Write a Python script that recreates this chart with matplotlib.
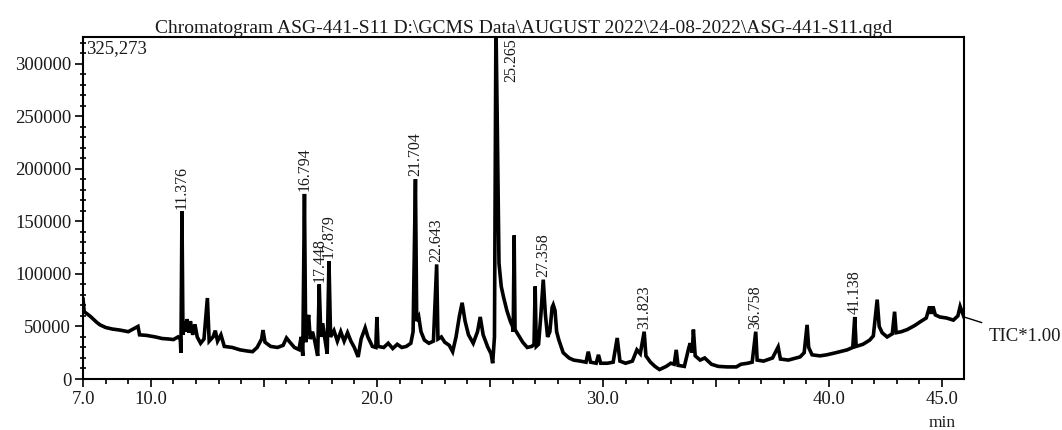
import numpy as np
import matplotlib.pyplot as plt
from matplotlib.ticker import MultipleLocator, FixedLocator, FixedFormatter

# retention time (min) and TIC intensity
rt = [7.00, 7.05, 7.3, 7.6, 7.75, 8.0, 8.3, 8.64, 9.0, 9.43, 9.5, 9.8, 10.2, 10.5, 10.8,
      11.0, 11.2, 11.3, 11.33, 11.376, 11.42, 11.5, 11.55, 11.6, 11.68, 11.75, 11.85, 11.95,
      12.05, 12.2, 12.35, 12.5, 12.58, 12.75, 12.85, 12.95, 13.1, 13.25, 13.6, 13.95, 14.3,
      14.5, 14.7, 14.9, 14.96, 15.05, 15.3, 15.6, 15.85, 16.0, 16.15, 16.35, 16.55, 16.65,
      16.72, 16.794, 16.85, 16.92, 16.98, 17.05, 17.15, 17.25, 17.38, 17.448, 17.52, 17.6,
      17.7, 17.8, 17.879, 17.95, 18.1, 18.25, 18.4, 18.55, 18.7, 18.85, 19.0, 19.17, 19.3,
      19.48, 19.6, 19.8, 19.95, 20.0, 20.05, 20.3, 20.5, 20.7, 20.9, 21.1, 21.3, 21.5, 21.6,
      21.704, 21.76, 21.85, 21.95, 22.1, 22.3, 22.5, 22.643, 22.7, 22.85, 23.0, 23.2, 23.35,
      23.5, 23.65, 23.77, 23.9, 24.05, 24.26, 24.45, 24.57, 24.7, 24.9, 25.05, 25.12, 25.2,
      25.265, 25.32, 25.4, 25.5, 25.6, 25.75, 25.9, 26.0, 26.03, 26.07, 26.11, 26.25, 26.45,
      26.65, 26.85, 26.95, 27.0, 27.05, 27.15, 27.25, 27.358, 27.45, 27.55, 27.65, 27.75,
      27.8, 27.88, 27.95, 28.05, 28.24, 28.5, 28.7, 29.0, 29.25, 29.35, 29.45, 29.7, 29.8,
      29.9, 30.2, 30.45, 30.63, 30.75, 31.0, 31.3, 31.5, 31.65, 31.823, 31.9, 32.1, 32.3,
      32.5, 32.8, 33.0, 33.15, 33.24, 33.32, 33.6, 33.8, 33.86, 33.95, 34.0, 34.08, 34.3,
      34.5, 34.8, 35.1, 35.5, 35.9, 36.1, 36.4, 36.6, 36.758, 36.82, 37.1, 37.5, 37.75,
      37.85, 38.2, 38.72, 38.9, 39.03, 39.1, 39.25, 39.6, 39.9, 40.3, 40.8, 41.05, 41.138,
      41.2, 41.5, 41.8, 41.96, 42.13, 42.22, 42.35, 42.57, 42.8, 42.9, 42.97, 43.2, 43.46,
      43.8, 44.04, 44.3, 44.45, 44.52, 44.6, 44.7, 44.9, 45.2, 45.5, 45.7, 45.8, 45.97]
tic = [76000, 64000, 60000, 54000, 51500, 49000, 47500, 46500, 45000, 50000, 42000, 41500,
       40000, 38500, 38000, 37500, 40000, 38000, 25000, 159500, 42000, 55000, 45000, 57000,
       44000, 55000, 42000, 52000, 40000, 34000, 38000, 77000, 36000, 40000, 46000, 36000,
       42000, 31000, 30000, 27700, 26500, 26000, 30000, 38000, 46500, 35000, 31000, 30000,
       32000, 39000, 35000, 30000, 28000, 40000, 22000, 176000, 35000, 52000, 61000, 38000,
       45000, 36000, 22000, 90000, 40000, 53000, 38000, 24000, 112000, 40000, 46000, 36000,
       45000, 36000, 44000, 36000, 30000, 21000, 38000, 48700, 40000, 31000, 30000, 59000,
       31000, 30000, 34000, 29000, 33000, 30000, 31000, 34000, 45000, 190000, 55000, 59000,
       45000, 37000, 34000, 36000, 109000, 38000, 40000, 35000, 32000, 26000, 40000, 60000,
       72500, 55000, 42000, 34000, 45000, 59000, 42000, 30500, 24000, 15000, 40000, 340000,
       250000, 110000, 88000, 78000, 65000, 55000, 50000, 45000, 136500, 47000, 42000, 35000,
       30000, 31000, 33000, 88000, 31000, 33000, 60000, 94500, 62000, 40000, 45000, 68000,
       70500, 65000, 45000, 37000, 25000, 20000, 18000, 17000, 16000, 26000, 16000, 15000,
       23000, 15000, 15000, 16000, 39000, 17000, 15000, 17000, 27700, 24000, 45000, 22000,
       16000, 12000, 9000, 12000, 15000, 14000, 27700, 13000, 12000, 30000, 34000, 25000,
       47000, 22000, 18000, 20000, 14000, 12000, 11500, 11500, 14000, 15000, 16000, 45000,
       18000, 17000, 20000, 30500, 19000, 18000, 21000, 25000, 51500, 30000, 23000, 22000,
       23000, 25000, 27700, 30000, 59000, 31000, 33000, 37000, 41000, 75500, 50000, 44000,
       40000, 43000, 64000, 44000, 45000, 47000, 51000, 54500, 58000, 69000, 62000, 69000,
       61000, 59000, 58000, 56000, 60000, 69000, 59000]

peak_labels = ['11.376', '16.794', '17.448', '17.879', '21.704', '22.643',
               '25.265', '27.358', '31.823', '36.758', '41.138']

xtick_pos = [7, 10, 15, 20, 25, 30, 35, 40, 45]
xtick_lab = ['7.0', '10.0', '', '20.0', '', '30.0', '', '40.0', '45.0']

title = r'Chromatogram ASG-441-S11 D:\GCMS Data\AUGUST 2022\24-08-2022\ASG-441-S11.qgd'
y_top = 325273

plt.rcParams['font.family'] = ['Liberation Serif', 'DejaVu Serif']
txt = '#1a1a1a'

fig = plt.figure(figsize=(10.62, 4.30), dpi=100)
ax = fig.add_axes([0.0782, 0.1186, 0.8295, 0.7954])

rt = np.array(rt)
tic = np.array(tic)
ax.plot(rt, tic, color='black', lw=2.6, solid_joinstyle='miter')

ax.set_xlim(7.0, 45.97)
ax.set_ylim(0, y_top)

# peak labels, rotated, sitting just above each apex
for lab in peak_labels:
    t = float(lab)
    win = (rt > t - 0.05) & (rt < t + 0.05)
    top = tic[win].max()
    if top >= y_top:
        ax.annotate(lab, xy=(t, y_top), xytext=(11, -1), textcoords='offset points',
                    rotation=90, ha='center', va='top', fontsize=11.5, color=txt)
    else:
        ax.annotate(lab, xy=(t, top), xytext=(0, 2), textcoords='offset points',
                    rotation=90, ha='center', va='bottom', fontsize=11.5, color=txt)

ax.text(0.003, 0.99, '{:,}'.format(y_top), transform=ax.transAxes,
        ha='left', va='top', fontsize=13.5, color=txt)

# TIC tag outside the frame
ax.annotate('TIC*1.00', xy=(rt[-1], tic[-1]), xytext=(18, -14), textcoords='offset points',
            ha='left', va='center', fontsize=13.5, color=txt, annotation_clip=False,
            arrowprops=dict(arrowstyle='-', color='black', lw=1.0, shrinkA=6, shrinkB=0))

ax.set_title(title, fontsize=14, color=txt, pad=1)

ax.xaxis.set_major_locator(FixedLocator(xtick_pos))
ax.xaxis.set_major_formatter(FixedFormatter(xtick_lab))
ax.xaxis.set_minor_locator(MultipleLocator(1))
ax.yaxis.set_major_locator(MultipleLocator(50000))
ax.yaxis.set_minor_locator(MultipleLocator(10000))
ax.tick_params(axis='both', which='major', direction='out', length=6, width=1.2,
               labelsize=13.5, labelcolor=txt, pad=2.5)
ax.tick_params(axis='x', which='minor', direction='out', length=3.5, width=1.2)
ax.tick_params(axis='y', which='minor', direction='inout', length=4, width=1.2)
ax.text(45.0, -0.13, 'min', transform=ax.get_xaxis_transform(), ha='center',
        va='center', fontsize=12.5, color=txt)

for sp in ax.spines.values():
    sp.set_linewidth(1.5)

fig.savefig('out.png', dpi=100)
